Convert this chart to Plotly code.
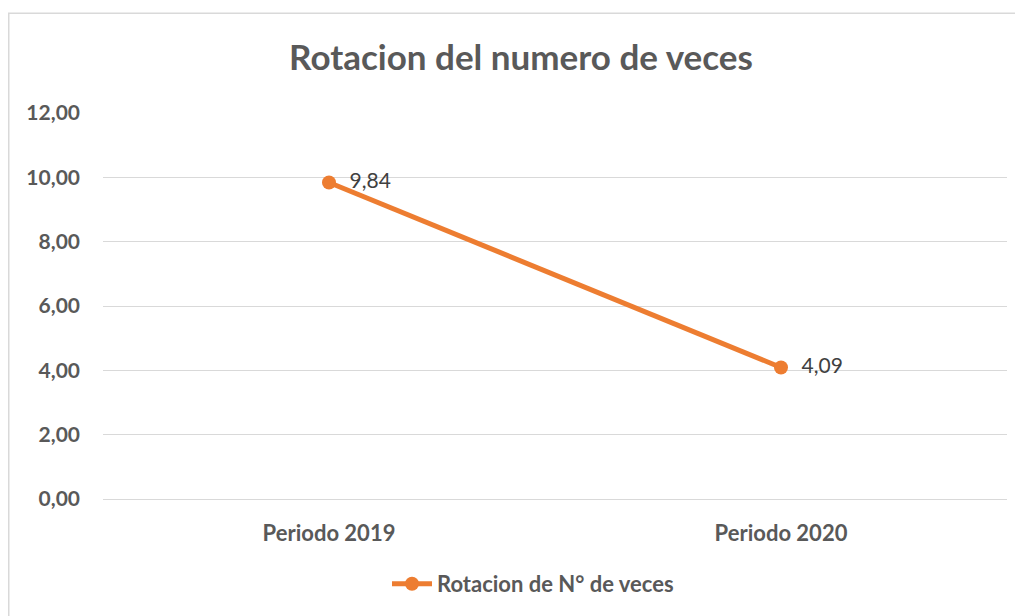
import plotly.graph_objects as go

categories = ["Periodo 2019", "Periodo 2020"]
values = [9.84, 4.09]
series_name = "Rotacion de N° de veces"
y_ticks = [0, 2, 4, 6, 8, 10, 12]

ORANGE = "#ED7D31"
GRAY = "#595959"
FONT = "Lato, 'Open Sans', sans-serif"

# page body has an 8px margin; figure sized to fit the 1023x616 window
W, H = 1015, 608
L, R, T, B = 95, 16, 105, 116
PW, PH = W - L - R, H - T - B

fig = go.Figure()
fig.add_trace(go.Scatter(
    x=categories, y=values, name=series_name,
    mode="lines+markers+text",
    line=dict(color=ORANGE, width=5),
    marker=dict(color=ORANGE, size=14),
    texttemplate="\u00a0\u00a0%{y:.2f}", textposition="middle right",
    textfont=dict(family=FONT, size=21, color="#404040"),
    cliponaxis=False,
))

fig.update_layout(
    width=W, height=H,
    margin=dict(l=L, r=R, t=T, b=B),
    paper_bgcolor="white", plot_bgcolor="white",
    separators=",.",
    title=dict(text="Rotacion del numero de veces", x=(521 - 8) / W, xanchor="center",
               y=1 - 50 / H, yanchor="middle",
               font=dict(family=FONT, size=35, color=GRAY, weight="bold")),
    showlegend=True,
    legend=dict(orientation="h", x=(533 - 103) / PW, xanchor="center",
                y=-(584 - 500) / PH, yanchor="middle",
                font=dict(family=FONT, size=22, color=GRAY, weight="bold"),
                itemwidth=40),
    shapes=[dict(type="rect", xref="paper", yref="paper",
                 x0=-(L - 0.75) / PW, x1=1 + 40 / PW,
                 y0=-(B + 40) / PH, y1=1 + (T - 5) / PH,
                 line=dict(color="#D9D9D9", width=1.5), layer="below")],
)
fig.update_xaxes(type="category", range=[-0.5, 1.5], showgrid=False, showline=False,
                 zeroline=False, ticks="", ticklabelstandoff=19,
                 tickfont=dict(family=FONT, size=22, color=GRAY, weight="bold"))
fig.update_yaxes(range=[0, 12], tickvals=y_ticks, tickformat=".2f",
                 showgrid=True, gridcolor="#D9D9D9", gridwidth=1,
                 zeroline=True, zerolinecolor="#D9D9D9", zerolinewidth=1,
                 showline=False, ticks="", ticklabelstandoff=22,
                 tickfont=dict(family=FONT, size=21, color=GRAY, weight="bold"))

fig.write_html("out.html")
